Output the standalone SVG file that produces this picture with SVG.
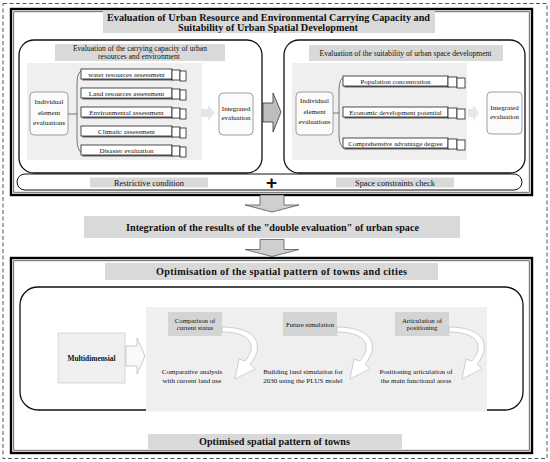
<svg xmlns="http://www.w3.org/2000/svg" width="550" height="462" viewBox="0 0 550 462">
<style>
text{font-family:"Liberation Serif","Times New Roman",serif;fill:#111}
.b{font-weight:bold;font-size:10.2px;text-anchor:middle}
.h{font-size:7.6px;text-anchor:middle}
.s{font-size:7px;text-anchor:middle}
.gray{fill:#d9d9d9}
.lite{fill:#efefef}
.panel{fill:none;stroke:#111;stroke-width:1.3}
.rbox{fill:#fbfbfb;stroke:#888;stroke-width:0.8}
.itm{fill:#fff;stroke:#222;stroke-width:0.8}
.shd{fill:#666}
.brace{fill:none;stroke:#555;stroke-width:0.8}
.down{fill:#cfcfcf;stroke:#444;stroke-width:0.7}
.curv{fill:#fff;stroke:#bdbdbd;stroke-width:0.7}
</style>
<defs>
<path id="darrow" d="M-12,0 H12 V10 H27 L0,17 L-27,10 H-12 Z"/>
<g id="stk">
<rect class="shd" x="1.5" y="1.5" width="91" height="10"/>
<rect class="itm" x="0" y="0" width="91" height="10"/>
<rect class="itm" x="91" y="1" width="8" height="10"/>
<rect class="itm" x="99" y="2" width="6" height="10"/>
</g>
<g id="stk2">
<rect class="shd" x="1.5" y="1.5" width="105" height="10"/>
<rect class="itm" x="0" y="0" width="105" height="10"/>
<rect class="itm" x="105" y="1" width="9" height="10"/>
<rect class="itm" x="114" y="2" width="8" height="10"/>
</g>
<path id="curl" d="M222,327 C256,327 266,345 250,364 L255,369 L235,379 L239,359 L245,361 C258,346 251,332 222,332 Z"/>
</defs>

<rect x="3" y="3.5" width="544" height="455" fill="none" stroke="#555" stroke-width="1" stroke-dasharray="4,2.5"/>

<g id="top-frame">
<rect x="11" y="9" width="521" height="186" fill="#fff" stroke="#000" stroke-width="2.4"/>
<rect x="13.8" y="11.8" width="515.4" height="180.4" fill="none" stroke="#000" stroke-width="0.6"/>
<rect class="gray" x="103" y="11" width="332" height="22"/>
<text class="b" x="268.5" y="21" textLength="323">Evaluation of Urban Resource and Environmental Carrying Capacity and</text>
<text class="b" x="268" y="31" textLength="180">Suitability of Urban Spatial Development</text>
</g>

<g id="left-panel">
<rect class="panel" x="19" y="40" width="243" height="133" rx="15"/>
<rect class="gray" x="55" y="44" width="170" height="17"/>
<text class="h" x="140" y="51">Evaluation of the carrying capacity of urban</text>
<text class="h" x="139" y="59">resources and environment</text>
<rect class="lite" x="27" y="63" width="175" height="97"/>
</g>

<g id="left-individual">
<rect class="rbox" x="30" y="92" width="38" height="43" rx="4"/>
<text class="s" x="49" y="104">Individual</text>
<text class="s" x="49" y="114.5">element</text>
<text class="s" x="49" y="125">evaluations</text>
</g>

<g id="left-items">
<path class="brace" d="M68,114 H77 M83,70 Q77,71 77,84 V139 Q77,152 83,153"/>
<use href="#stk" x="81" y="69"/>
<text class="s" x="126.5" y="76.5">water resources assessment</text>
<use href="#stk" x="81" y="88"/>
<text class="s" x="126.5" y="95.5">Land resources assessment</text>
<use href="#stk" x="81" y="107"/>
<text class="s" x="126.5" y="114.5">Environmental assessment</text>
<use href="#stk" x="81" y="126"/>
<text class="s" x="126.5" y="133.5">Climatic assessment</text>
<use href="#stk" x="81" y="145"/>
<text class="s" x="126.5" y="152.5">Disaster evaluation</text>
</g>

<g id="left-integrated">
<path d="M201,109 H208 V105 L215,113 L208,121 V117 H201 Z" fill="#e6e6e6"/>
<rect class="rbox" x="219" y="93" width="34" height="42" rx="4"/>
<text class="s" x="236" y="111">Integrated</text>
<text class="s" x="236" y="120">evaluation</text>
</g>

<g id="mid-arrow">
<path d="M263,103 H273 V93 L281,112 L273,132 V122 H263 Z" fill="#bdbdbd" stroke="#333" stroke-width="0.8"/>
</g>

<g id="right-panel">
<rect class="panel" x="284" y="40" width="241" height="133" rx="15"/>
<rect class="gray" x="309" y="45" width="194" height="16"/>
<text class="h" x="405.5" y="55.5">Evaluation of the suitability of urban space development</text>
<rect class="lite" x="292" y="63" width="175" height="97"/>
</g>

<g id="right-individual">
<rect class="rbox" x="296" y="92" width="37" height="43" rx="4"/>
<text class="s" x="314.5" y="103">Individual</text>
<text class="s" x="314.5" y="113.5">element</text>
<text class="s" x="314.5" y="124">evaluations</text>
</g>

<g id="right-items">
<path class="brace" d="M333,113 H339 M345,77 Q339,78 339,90 V135 Q339,147 345,148"/>
<use href="#stk2" x="343" y="76"/>
<text class="s" x="395.5" y="83.5">Population concentration</text>
<use href="#stk2" x="343" y="107"/>
<text class="s" x="395.5" y="114.5">Economic development potential</text>
<use href="#stk2" x="343" y="138"/>
<text class="s" x="395.5" y="145.5">Comprehensive advantage degree</text>
</g>

<g id="right-integrated">
<path d="M468,109 H473 V105 L479,113 L473,121 V117 H468 Z" fill="#e6e6e6"/>
<rect class="rbox" x="487" y="92" width="35" height="42" rx="4"/>
<text class="s" x="504.5" y="110">Integrated</text>
<text class="s" x="504.5" y="119">evaluation</text>
</g>

<g id="constraint-bar">
<rect x="17" y="174" width="505" height="16" rx="8" fill="#fff" stroke="#111" stroke-width="1"/>
<rect class="gray" x="90" y="177.5" width="118" height="10"/>
<text x="149" y="185.5" style="font-size:8.4px;text-anchor:middle">Restrictive condition</text>
<text x="271.5" y="189" style="font-size:19px;font-weight:bold;text-anchor:middle;font-family:'Liberation Sans',Arial,sans-serif">+</text>
<rect class="gray" x="336" y="177.5" width="118" height="10"/>
<text x="395" y="185.5" style="font-size:8.4px;text-anchor:middle">Space constraints check</text>
</g>

<g id="connectors">
<use href="#darrow" class="down" x="272" y="195"/>
<use href="#darrow" class="down" x="272" y="239.5"/>
<use href="#darrow" class="down" x="272" y="412"/>
</g>

<g id="integration">
<rect class="gray" x="84" y="216" width="376" height="22"/>
<text class="b" x="272.5" y="230.5" textLength="293">Integration of the results of the "double evaluation" of urban space</text>
</g>

<g id="bottom-frame">
<rect x="11" y="258" width="521" height="195" fill="#fff" stroke="#000" stroke-width="2.4"/>
<rect x="13.8" y="260.8" width="515.4" height="189.4" fill="none" stroke="#000" stroke-width="0.6"/>
<rect class="gray" x="105" y="263" width="333" height="17"/>
<text class="b" x="281.5" y="275" textLength="251">Optimisation of the spatial pattern of towns and cities</text>
<rect class="panel" x="20" y="287" width="503" height="123" rx="18"/>
<rect class="lite" x="146" y="307" width="341" height="104.5"/>
</g>

<g id="multidimensial">
<rect x="58" y="333" width="67" height="50" fill="#efefef" stroke="#d0d0d0" stroke-width="0.8"/>
<text x="91.5" y="360.5" style="font-size:7.4px;font-weight:bold;text-anchor:middle">Multidimensial</text>
<path d="M126,346 H137 V338 L145,356 L137,374 V366 H126 Z" fill="#fafafa" stroke="#bbb" stroke-width="0.8"/>
</g>

<g id="comparison">
<rect x="168" y="312" width="54" height="24" fill="#d4d4d4"/>
<text x="195" y="322.5" style="font-size:6.8px;text-anchor:middle">Comparison of</text>
<text x="195" y="330" style="font-size:6.8px;text-anchor:middle">current status</text>
<use href="#curl" class="curv"/>
<text class="s" x="192" y="374">Comparative analysis</text>
<text class="s" x="192" y="382.5">with current land use</text>
</g>

<g id="future">
<rect x="283" y="312" width="54" height="24" fill="#d4d4d4"/>
<text x="310" y="326.5" style="font-size:6.8px;text-anchor:middle">Future simulation</text>
<use href="#curl" class="curv" x="115"/>
<text class="s" x="303" y="374">Building land simulation for</text>
<text class="s" x="303" y="382.5">2030 using the PLUS model</text>
</g>

<g id="articulation">
<rect x="395" y="312" width="54" height="24" fill="#d4d4d4"/>
<text x="422" y="322.5" style="font-size:6.8px;text-anchor:middle">Articulation of</text>
<text x="422" y="330" style="font-size:6.8px;text-anchor:middle">positioning</text>
<use href="#curl" class="curv" x="227"/>
<text class="s" x="416" y="374">Positioning articulation of</text>
<text class="s" x="416" y="382.5">the main functional areas</text>
</g>

<g id="result">
<rect class="gray" x="148" y="434" width="254" height="15"/>
<text class="b" x="274.5" y="445" textLength="151">Optimised spatial pattern of towns</text>
</g>
</svg>
